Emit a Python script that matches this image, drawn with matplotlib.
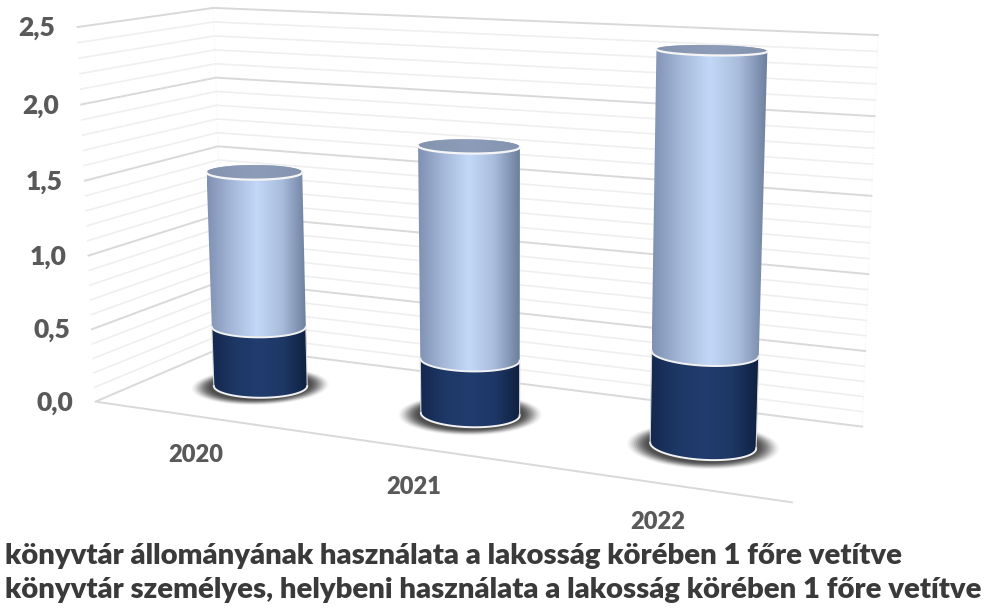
import numpy as np
import matplotlib
matplotlib.use("Agg")
import matplotlib.pyplot as plt
from matplotlib.colors import LinearSegmentedColormap
from matplotlib.patches import Polygon

categories = ["2020", "2021", "2022"]
lower_values = [0.42, 0.37, 0.59]
upper_values = [1.07, 1.40, 1.86]
tick_values = [0.0, 0.5, 1.0, 1.5, 2.0, 2.5]
tick_labels = ["0,0", "0,5", "1,0", "1,5", "2,0", "2,5"]
legend_labels = [
    "könyvtár állományának használata a lakosság körében 1 főre vetítve",
    "könyvtár személyes, helybeni használata a lakosság körében 1 főre vetítve",
]

# camera fit: (u along categories, w depth, value) -> pixel of the box corners
box_world = np.array([[0, 0, 0], [0, 0, 2.5], [0, 1, 0], [0, 1, 2.5],
                      [1, 1, 0], [1, 1, 2.5], [1, 0, 0]], float)
box_pixel = np.array([[95, 402], [78, 27], [225, 346], [213, 8],
                      [862, 427], [878, 35], [792, 502]], float)


def fit_camera(world, pixel):
    rows = []
    for (u, w, v), (x, y) in zip(world, pixel):
        rows.append([u, w, v, 1, 0, 0, 0, 0, -x * u, -x * w, -x * v, -x])
        rows.append([0, 0, 0, 0, u, w, v, 1, -y * u, -y * w, -y * v, -y])
    return np.linalg.svd(np.array(rows))[2][-1].reshape(3, 4)


camera = fit_camera(box_world, box_pixel)


def project(u, w, v):
    u, w, v = np.broadcast_arrays(u, w, v)
    h = camera @ np.array([u, w, v, np.ones_like(u, dtype=float)], dtype=float)
    return h[0] / h[2], h[1] / h[2]


RU, RW = 0.069, 0.18
t = np.linspace(0, 2 * np.pi, 181)[:-1]


def ring(i, v, scale=1.0, stretch=1.0):
    uc = (i + 0.5) / len(categories)
    x, y = project(uc + scale * RU * np.cos(t), 0.5 + scale * stretch * RW * np.sin(t), v)
    return np.column_stack([x, y])


def arcs(pts):
    # split a ring at its leftmost and rightmost points: front arc, back arc
    pts = np.roll(pts, -np.argmin(pts[:, 0]), axis=0)
    k = np.argmax(pts[:, 0])
    a, b = pts[:k + 1], np.vstack([pts[k:], pts[:1]])[::-1]
    return (a, b) if a[:, 1].mean() > b[:, 1].mean() else (b, a)


light_cmap = LinearSegmentedColormap.from_list(
    "light", ["#7f90b2", "#a5b8d9", "#c3d8f8", "#a9bcdc", "#6c7e9c"])
dark_cmap = LinearSegmentedColormap.from_list(
    "dark", ["#14284f", "#1e3866", "#213c6e", "#1e3765", "#0f2140"])
cap_cmap = LinearSegmentedColormap.from_list(
    "cap", ["#8493ae", "#8d9cb8", "#8493ae"])
ramp = np.linspace(0, 1, 256)[None, :]


def gradient(ax, pts, cmap, z):
    im = ax.imshow(ramp, cmap=cmap, aspect="auto", zorder=z,
                   extent=[pts[:, 0].min(), pts[:, 0].max(), pts[:, 1].max(), pts[:, 1].min()])
    clip = Polygon(pts, closed=True, transform=ax.transData)
    im.set_clip_path(clip)


def segment(ax, i, v0, v1, cmap, z, edge):
    front = arcs(ring(i, v0))[0]
    back = arcs(ring(i, v1))[1]
    pts = np.vstack([front, back[::-1]])
    gradient(ax, pts, cmap, z)
    ax.plot(front[:, 0], front[:, 1], color="#f2f2f2", lw=1.4, zorder=z + 0.1)
    if edge:
        for k in [0, -1]:
            ax.plot([front[k, 0], back[k, 0]], [front[k, 1], back[k, 1]],
                    color="#d9d9d9", lw=0.8, zorder=z + 0.1)


plt.rcParams["font.family"] = ["Lato", "DejaVu Sans"]
fig = plt.figure(figsize=(10, 6.1), dpi=100)
ax = fig.add_axes([0, 0, 1, 1])

# walls
for v in np.arange(0, 26) / 10:
    major = round(v * 10) % 5 == 0
    color = "#d9d9d9" if major else "#efefef"
    lw = 1.4 if major else 1.2
    xs, ys = project([0, 0, 1], [0, 1, 1], v)
    if v > 0:
        ax.plot(xs, ys, color=color, lw=lw, zorder=1)
    else:
        ax.plot(xs[1:], ys[1:], color=color, lw=lw, zorder=1)
for u, w in [(0, 1), (1, 1)]:
    xs, ys = project(u, w, np.array([0, 2.5]))
    ax.plot(xs, ys, color="#f4f4f4", lw=0.8, ls=":", zorder=0.5)

# floor
xs, ys = project([0, 0, 1], [1, 0, 0], 0)
ax.plot(xs, ys, color="#d9d9d9", lw=1.4, zorder=1)

# bars
for i in range(len(categories)):
    for s, a in zip(np.linspace(1.42, 1.05, 12), np.linspace(0.04, 0.28, 12)):
        shadow = ring(i, 0, s, 1.15)
        ax.add_patch(Polygon(shadow, closed=True, fc="#3a3a3a", ec="none", alpha=a, zorder=2))
    total = lower_values[i] + upper_values[i]
    segment(ax, i, 0, lower_values[i], dark_cmap, 3, True)
    segment(ax, i, lower_values[i], total, light_cmap, 4, False)
    top = ring(i, total)
    gradient(ax, top, cap_cmap, 5)
    front = arcs(top)[0]
    ax.plot(front[:, 0], front[:, 1], color="#f5f5f5", lw=1.6, zorder=5.1)

# labels
for v, lab in zip(tick_values, tick_labels):
    x, y = project(0, 0, v)
    ax.annotate(lab, (x, y), xytext=(-22, -1), textcoords="offset pixels",
                ha="right", va="center", fontsize=19, fontweight="heavy", color="#595959")
for i, lab in enumerate(categories):
    x, y = project((i + 0.5) / len(categories), 0, 0)
    ax.annotate(lab, (x, y), xytext=(-1, -39), textcoords="offset pixels",
                ha="center", va="center", fontsize=17, fontweight="heavy", color="#595959")
for y, lab in zip([556, 590], legend_labels):
    ax.text(5, y, lab, ha="left", va="center", fontsize=21.1, fontweight="heavy", color="#3a3a3a")

ax.set_xlim(0, 1000)
ax.set_ylim(610, 0)
ax.axis("off")
fig.savefig("out.png", dpi=100)
